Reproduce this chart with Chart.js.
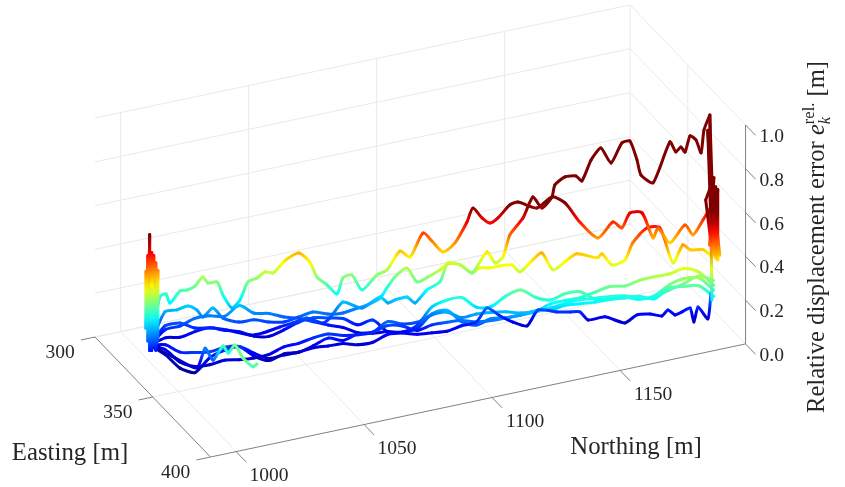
<!DOCTYPE html>
<html>
<head>
<meta charset="utf-8">
<style>
  html, body { margin: 0; padding: 0; background: #fff; }
  canvas { display: block; }
</style>
<script src="https://cdn.jsdelivr.net/npm/chart.js@4"></script>
</head>
<body>
<canvas id="chart" width="845" height="487"></canvas>
<script>
// Axis ticks
const northingTicks = [1000, 1050, 1100, 1150];
const eastingTicks = [300, 350, 400];
const errorTicks = [0, 0.2, 0.4, 0.6, 0.8, 1.0];

// Ground tracks, in metres
const northingC = [1003.5,1008.5,1013.5,1018.5,1023.5,1028.5,1033.5,1038.5,1043.5,1048.5,1053.5,1058.5,1063.5,1068.5,1073.5,1077.9,1082.3,1086.6,1091,1095.4,1099.8,1104.4,1109.1,1113.8,1118.5,1123.2,1127.9,1132.9,1137.9,1142.9,1147.9,1152.9,1157.9,1162.9,1167.9,1172.9,1177.9,1182.9,1187.9];
const eastingC = [318,319.8,321.5,323.3,325,326.8,328.5,330.3,332,333.8,335.5,337.3,339,340.8,342.5,345.6,348.8,351.9,355,358.2,361.3,363.8,366.2,368.7,371.1,373.5,376,377.7,379.5,381.2,383,384.7,386.5,388.2,390,391.7,393.5,395.2,397];
const northingD = [1003.5,1004.8,1006.6,1010.1,1015.4,1021,1026.3,1031.9,1037.3,1042.9,1048.5,1053.8,1059.1,1064.4,1069.8,1075.1,1080.4,1085.7,1091,1096.3,1099.8,1104.4,1109.1,1113.8,1118.5,1123.2,1127.9,1132.9,1137.9,1142.9,1147.9,1152.9,1157.9,1162.9,1167.9,1172.9,1177.9,1182.9,1187.9];
const eastingD = [318,328.1,336.7,342,343,343.4,344.4,344.8,345.9,346.3,346.6,347.7,348.7,349.8,350.8,351.9,352.9,354,355,356.1,361.3,363.8,366.2,368.7,371.1,373.5,376,377.7,379.5,381.2,383,384.7,386.5,388.2,390,391.7,393.5,395.2,397];

// Runs sharing a track: relative displacement error
const errorOrange = [.027,.059,.059,.082,.096,.082,.073,.05,.046,.073,.105,.123,.119,.114,.082,.11,.064,.068,.091,.164,.187,.137,.123,.155,.16,.174,.192,.224,.237,.247,.269,.292,.292,.315,.329,.338,.361,.342,.279];
const errorTeal = [.027,.096,.11,.142,.151,.146,.192,.155,.151,.132,.123,.105,.087,.073,.046,.05,.064,.068,.105,.196,.233,.247,.205,.21,.26,.288,.256,.242,.269,.274,.237,.233,.242,.228,.242,.288,.315,.315,.256];
const errorCyan = [.027,.082,.091,.11,.105,.114,.11,.055,.027,.046,.041,.064,.091,.073,.096,.096,.137,.119,.119,.146,.178,.155,.174,.183,.187,.183,.192,.205,.224,.237,.242,.247,.247,.233,.237,.265,.292,.324,.301];
const errorAzure = [.027,.059,.046,.046,.046,.055,.05,.046,.055,.078,.082,.10,.11,.096,.091,.096,.119,.11,.082,.10,.132,.142,.137,.146,.16,.174,.196,.196,.215,.219,.224,.233,.237,.242,.228,.274,.279,.279,.228];

// Runs with their own samples
const northingRed = [1003.5,1006.7,1008.8,1010.1,1013.5,1015.9,1018.5,1021.2,1022.9,1026,1028,1031,1033.7,1036.4,1039.5,1042.2,1044.9,1047.2,1049.6,1053.6,1057.3,1059.7,1063.1,1066.5,1068.5,1071.5,1074.9,1080,1083.3,1087.7,1091.1,1095.5,1098.5,1102.2,1106.3,1110.3,1112.3,1115.4,1118.1,1120.8,1124.8,1127.5,1133.9,1139,1143.4,1148.4,1154.5,1159.6,1162.6,1165.3,1169.4,1173.1,1174.8,1178.8,1183.9,1186.6,1190,1193];
const eastingRed = [318,319.1,319.8,320.3,321.5,322.3,323.3,324.2,324.8,325.9,326.6,327.6,328.6,329.5,330.6,331.5,332.5,333.3,334.1,335.5,336.8,337.7,338.8,340,340.7,341.8,343,344.7,345.9,347.5,348.6,350.2,351.2,352.5,353.9,355.4,356.1,357.1,358.1,359,360.4,361.4,363.6,365.4,366.9,368.7,370.8,372.6,373.6,374.6,376,377.3,377.9,379.3,381.1,382,383.2,384.3];
const errorRed = [.029,.246,.259,.217,.27,.273,.29,.33,.301,.304,.243,.183,.217,.298,.315,.341,.335,.365,.396,.421,.378,.308,.27,.227,.299,.311,.241,.306,.327,.411,.382,.489,.451,.399,.438,.531,.594,.547,.522,.544,.601,.613,.582,.63,.60,.51,.434,.504,.475,.542,.54,.424,.468,.398,.477,.43,.497,.563];

const northingMaroon = [1003.5,1008.4,1013.5,1018.5,1024.6,1029.3,1037.1,1041.5,1047.2,1051.6,1056.3,1061.7,1064.1,1068.5,1074.9,1081,1083.7,1086,1090.1,1092.8,1096.8,1101.2,1103.9,1108,1112,1117.1,1119.8,1122.5,1124.8,1129.2,1132.6,1135.6,1139,1140,1143.4,1147.1,1149.1,1152.2,1155.5,1158.9,1162.6,1165.3,1167.7,1169,1173.1,1178.8,1180.8,1182.5,1183.9,1185.6,1187.6,1189.3,1190.3,1192.3];
const eastingMaroon = [318,319.7,321.5,323.3,325.4,327,329.8,331.3,333.3,334.8,336.5,338.4,339.2,340.7,343,345.1,346,346.9,348.3,349.2,350.6,352.2,353.1,354.5,356,357.7,358.7,359.6,360.4,362,363.1,364.2,365.4,365.7,366.9,368.2,368.9,370,371.2,372.4,373.6,374.6,375.4,375.9,377.3,379.3,380,380.6,381.1,381.7,382.4,383,383.3,384];
const errorMaroon = [.029,.113,.124,.098,.095,.083,.056,.063,.087,.103,.123,.097,.119,.189,.158,.205,.176,.189,.20,.171,.228,.263,.348,.337,.298,.391,.339,.365,.464,.539,.633,.581,.63,.684,.719,.721,.697,.791,.844,.774,.863,.871,.783,.714,.675,.859,.812,.834,.81,.883,.863,.803,.907,.975];

const northingYellow = [1003.5,1008.4,1012.5,1016.2,1019.2,1021.2,1024.6,1028,1033.4,1038.5,1043.5,1048.6,1053.6,1058.4,1063.4,1068.5,1073.5,1076.6,1081,1083.3,1086,1090.1,1091.9,1095.6,1099.6,1100.8,1104.9,1108.9,1111.6,1115,1118.4,1122.4,1125.1,1129.5,1132.5,1136.2,1140.3,1144.3,1151.1,1152.8,1156.1,1160.5,1163.2,1167.9,1172.3,1176.7,1180.1,1182.5,1186.9,1189.9];
const eastingYellow = [318,319.7,321.1,322.4,323.5,324.2,325.4,326.6,328.5,330.2,332,333.8,335.5,337.2,339,340.7,342.5,343.6,345.1,345.9,346.9,348.3,353,354.3,355.7,360,361.4,362.9,363.8,365,366.2,367.6,368.5,370,371.1,372.4,373.8,375.2,377.6,378.2,379.4,380.9,381.8,383.5,385,386.6,387.7,388.6,390.1,391.2];
const errorYellow = [.029,.177,.184,.20,.18,.147,.186,.138,.117,.124,.112,.109,.129,.149,.137,.139,.159,.171,.20,.245,.294,.332,.29,.311,.34,.389,.383,.344,.365,.363,.37,.372,.339,.392,.422,.342,.377,.411,.389,.406,.354,.374,.451,.516,.514,.352,.432,.408,.406,.372];

const northingBlue = [1003.5,1004.8,1006.6,1010.1,1015.4,1021,1026.3,1031.9,1037.3,1042.9,1048.5,1053.8,1059.1,1064.4,1069.8,1075.1,1080.4,1085.7,1091,1096.3,1101.6,1106.9,1111.9,1117.1,1121.5,1125.8,1130.6,1134.3,1140.7,1145.1,1148.4,1151.2,1156.9,1163.6,1167.7,1172.1,1176.1,1178.1,1180.5,1182.9,1185.6,1186.9,1188.3,1191.6,1192.6];
const eastingBlue = [318,328.1,336.7,342,343,343.4,344.4,344.8,345.9,346.3,346.6,347.7,348.7,349.8,350.8,351.9,352.9,354,355,356.1,357.2,358.3,360,357.7,359.3,360.8,362.4,363.7,366,367.5,368.7,369.6,371.6,374,375.4,377,378.4,379.1,379.9,380.7,381.7,382.1,382.6,383.8,384.2];
const errorBlue = [.027,.037,.018,.018,.078,.10,.11,.068,.037,.041,.041,.055,.055,.059,.046,.05,.078,.078,.064,.064,.064,.082,.096,.135,.096,.066,.045,.116,.104,.101,.10,.061,.072,.041,.075,.077,.066,.092,.068,.08,.097,.032,.10,.044,.162];

// Short run that drifts east near the start
const northingShort = [1003.5,1006.7,1010,1012,1012.2,1010.3,1011.8,1012.4,1011.6,1013.5,1015];
const eastingShort = [318,332.3,344,346.6,353,365.8,367,371.5,380.2,384.7,384.8];
const errorShort = [.027,.04,.05,.15,.13,.27,.24,.30,.29,.27,.28];

// Peaks at the two ends of the runs
const northingStart = [996.1,996.1,996.9,996.9,997.6,997.6,998.4,998.4,999.2,999.2,1000,1000,1000.8,1000.8];
const eastingStart = [330.5,330.5,330.5,330.5,330.5,330.5,330.5,330.5,330.5,330.5,330.5,330.5,330.5,330.5];
const errorStart = [.452,.192,.522,.132,.616,.087,.532,.085,.517,.106,.482,.082,.445,.125];
const northingEnd = [1187.2,1186.4,1188,1185.6,1187.2,1184.8,1188,1186.4,1188.7,1188,1189.5,1189.5,1188.7,1188.7,1187.2,1190.3];
const eastingEnd = [397,397,397,397,397,397,397,397,397,397,397,397,397,397,397,397];
const errorEnd = [.213,1.059,.487,.992,.441,.676,.77,.466,.727,.418,.712,.39,.69,.402,.739,.41];

const NORTHING_MIN = 990, NORTHING_MAX = 1199;
const EASTING_MIN = 300, EASTING_MAX = 400;
const COLOR_MAX = 0.6; // error que satura o colormap

// Orthographic view of the 3D box, result in canvas units
function project(n, e, z) {
    return {
        x: 95 + 2.56 * (n - NORTHING_MIN) + 1.155 * (e - EASTING_MIN),
        y: 337 - 0.541 * (n - NORTHING_MIN) + 1.2 * (e - EASTING_MIN) - 219 * z
    };
}

function jet(t) {
    t = Math.min(1, Math.max(0, t));
    const c = v => Math.round(255 * Math.min(1, Math.max(0, v)));
    return `rgb(${c(1.5 - Math.abs(4 * t - 3))},${c(1.5 - Math.abs(4 * t - 2))},${c(1.5 - Math.abs(4 * t - 1))})`;
}

const canvas = document.getElementById('chart');
const ctx2d = canvas.getContext('2d');

// Each piece of a run gets a gradient following the error value
function errorSegment(errors) {
    return {
        borderColor: ctx => {
            const z0 = errors[ctx.p0DataIndex], z1 = errors[ctx.p1DataIndex];
            const g = ctx2d.createLinearGradient(ctx.p0.x, ctx.p0.y, ctx.p1.x + 0.01, ctx.p1.y + 0.01);
            for (let s = 0; s <= 6; s++) {
                g.addColorStop(s / 6, jet((z0 + (z1 - z0) * s / 6) / COLOR_MAX));
            }
            return g;
        }
    };
}

function runDataset(north, east, errors, tension) {
    return {
        data: errors.map((z, i) => project(north[i], east[i], z)),
        showLine: true,
        pointRadius: 0,
        borderWidth: 3,
        borderColor: '#00f',
        borderCapStyle: 'round',
        borderJoinStyle: 'round',
        tension: tension,
        segment: errorSegment(errors)
    };
}

function rule(p0, p1, color, width) {
    return {
        data: [p0, p1],
        showLine: true,
        pointRadius: 0,
        borderWidth: width,
        borderColor: color,
        tension: 0
    };
}

const GRID = '#e9e9e9', AXIS = '#808080';
const datasets = [];

// Grade das paredes e do piso
errorTicks.forEach(z => {
    datasets.push(rule(project(NORTHING_MIN, EASTING_MIN, z), project(NORTHING_MAX, EASTING_MIN, z), GRID, 1));
    datasets.push(rule(project(NORTHING_MAX, EASTING_MIN, z), project(NORTHING_MAX, EASTING_MAX, z), GRID, 1));
});
northingTicks.forEach(n => {
    datasets.push(rule(project(n, EASTING_MIN, 0), project(n, EASTING_MIN, 1), GRID, 1));
    datasets.push(rule(project(n, EASTING_MIN, 0), project(n, EASTING_MAX, 0), GRID, 1));
});
eastingTicks.slice(0, 2).forEach(e => {
    datasets.push(rule(project(NORTHING_MAX, e, 0), project(NORTHING_MAX, e, 1), GRID, 1));
    datasets.push(rule(project(NORTHING_MIN, e, 0), project(NORTHING_MAX, e, 0), GRID, 1));
});

// Eixos e marcas
datasets.push(rule(project(NORTHING_MIN, EASTING_MIN, 0), project(NORTHING_MIN, EASTING_MAX, 0), AXIS, 1));
datasets.push(rule(project(NORTHING_MIN, EASTING_MAX, 0), project(NORTHING_MAX, EASTING_MAX, 0), AXIS, 1));
datasets.push(rule(project(NORTHING_MAX, EASTING_MAX, 0), project(NORTHING_MAX, EASTING_MAX, 1), AXIS, 1));
eastingTicks.forEach(e => datasets.push(rule(project(NORTHING_MIN, e, 0), project(NORTHING_MIN - 5.5, e, 0), AXIS, 1)));
northingTicks.forEach(n => datasets.push(rule(project(n, EASTING_MAX, 0), project(n, EASTING_MAX + 8.7, 0), AXIS, 1)));
errorTicks.forEach(z => datasets.push(rule(project(NORTHING_MAX, EASTING_MAX, z), project(NORTHING_MAX, EASTING_MAX + 8.7, z), AXIS, 1)));

// Corridas
datasets.push(runDataset(northingC, eastingC, errorOrange, 0.3));
datasets.push(runDataset(northingYellow, eastingYellow, errorYellow, 0.25));
datasets.push(runDataset(northingD, eastingD, errorCyan, 0.3));
datasets.push(runDataset(northingC, eastingC, errorTeal, 0.3));
datasets.push(runDataset(northingD, eastingD, errorAzure, 0.3));
datasets.push(runDataset(northingBlue, eastingBlue, errorBlue, 0.2));
datasets.push(runDataset(northingShort, eastingShort, errorShort, 0.2));
datasets.push(runDataset(northingRed, eastingRed, errorRed, 0.25));
datasets.push(runDataset(northingMaroon, eastingMaroon, errorMaroon, 0.2));
datasets.push(runDataset(northingStart, eastingStart, errorStart, 0));
datasets.push(runDataset(northingEnd, eastingEnd, errorEnd, 0));
datasets.reverse(); // Chart.js desenha o primeiro dataset por cima

const TEXT = '#262626';
const SERIF = '"Liberation Serif", serif';

// Textos dos eixos, posicionados pelas escalas do grafico
const axisText = {
    id: 'axisText',
    afterDraw(chart) {
        const { ctx, scales } = chart;
        const at = (n, e, z) => {
            const p = project(n, e, z);
            return { x: scales.x.getPixelForValue(p.x), y: scales.y.getPixelForValue(p.y) };
        };
        ctx.save();
        ctx.fillStyle = TEXT;
        ctx.textBaseline = 'middle';
        ctx.font = `19.5px ${SERIF}`;

        ctx.textAlign = 'center';
        eastingTicks.forEach(e => {
            const p = at(NORTHING_MIN, e, 0);
            ctx.fillText(String(e), p.x - 35, p.y + 16);
        });
        northingTicks.forEach(n => {
            const p = at(n, EASTING_MAX, 0);
            ctx.fillText(String(n), p.x + 33, p.y + 24);
        });
        ctx.textAlign = 'left';
        errorTicks.forEach(z => {
            const p = at(NORTHING_MAX, EASTING_MAX, z);
            ctx.fillText(z.toFixed(1), p.x + 14, p.y + 12);
        });

        ctx.textAlign = 'center';
        ctx.font = `24.8px ${SERIF}`;
        ctx.fillText('Easting [m]', 70, 453);
        ctx.fillText('Northing [m]', 636, 447);

        // Rotulo vertical com sub e sobrescrito
        ctx.translate(824, 413);
        ctx.rotate(-Math.PI / 2);
        ctx.textAlign = 'left';
        ctx.textBaseline = 'alphabetic';
        let x = 0;
        const put = (s, font, dy) => {
            ctx.font = font;
            ctx.fillText(s, x, dy);
            return ctx.measureText(s).width;
        };
        x += put('Relative displacement error ', `24.6px ${SERIF}`, 0);
        x += put('e', `italic 24.6px ${SERIF}`, 0);
        const subW = put('k', `italic 16.5px ${SERIF}`, 6);
        const supW = put('rel.', `16.5px ${SERIF}`, -10);
        x += Math.max(subW, supW);
        put(' [m]', `24.6px ${SERIF}`, 0);
        ctx.restore();
    }
};

new Chart(canvas, {
    type: 'scatter',
    data: { datasets },
    options: {
        responsive: false,
        animation: false,
        layout: { padding: 0 },
        plugins: { legend: { display: false }, tooltip: { enabled: false } },
        scales: {
            x: { type: 'linear', min: 0, max: 845, display: false },
            y: { type: 'linear', min: 0, max: 487, reverse: true, display: false }
        }
    },
    plugins: [axisText]
});
</script>
</body>
</html>
